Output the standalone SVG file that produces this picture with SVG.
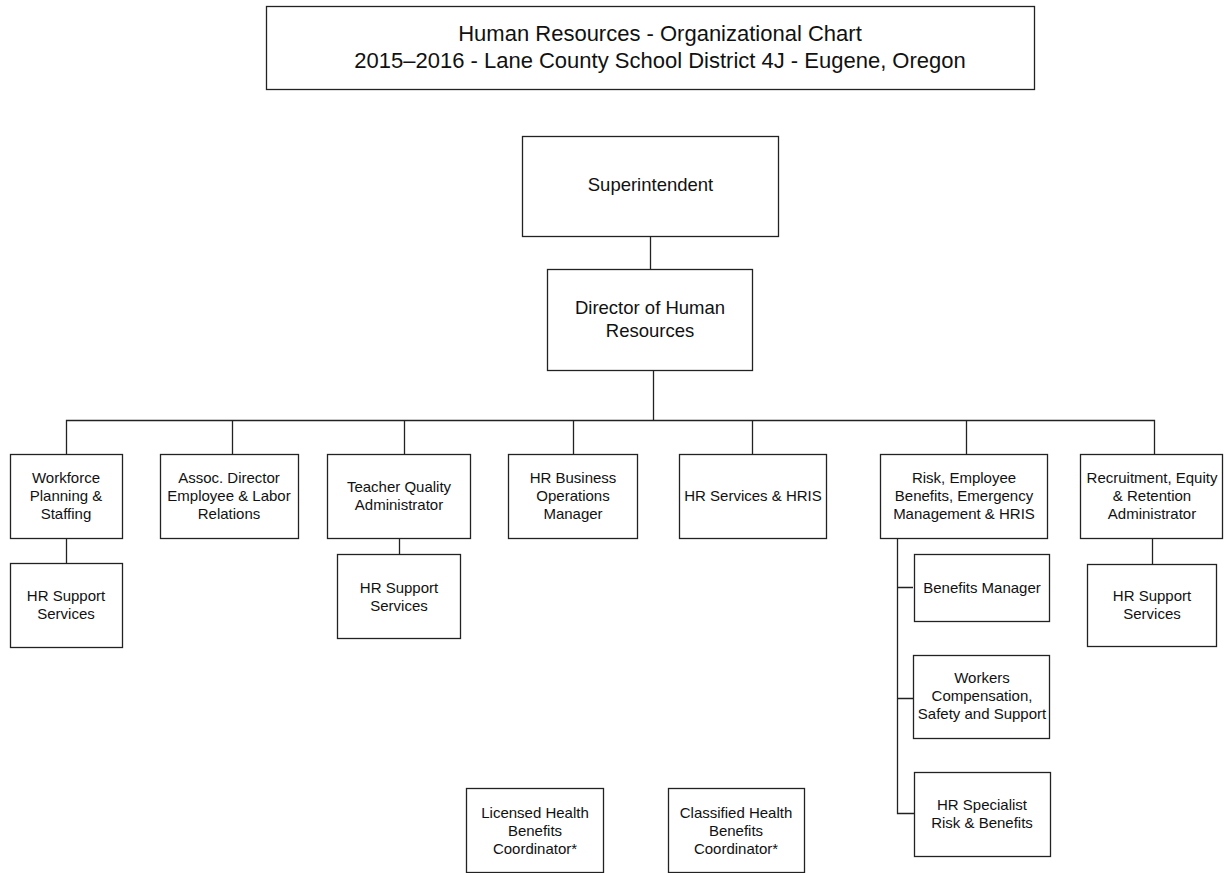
<svg xmlns="http://www.w3.org/2000/svg" width="1225" height="873" viewBox="0 0 1225 873">
<style>
.box{fill:#fff;stroke:#222;stroke-width:1.3}
.t{font-family:"Liberation Sans",Arial,sans-serif;font-size:15px;fill:#111;text-anchor:middle}
.tl{font-family:"Liberation Sans",Arial,sans-serif;font-size:18.5px;fill:#111;text-anchor:middle}
.tt{font-family:"Liberation Sans",Arial,sans-serif;font-size:22px;fill:#111;text-anchor:middle}
.c{fill:none;stroke:#222;stroke-width:1.3}
</style>
<rect width="1225" height="873" fill="#fff"/>
<g id="connectors">
<path class="c" d="M650.5 236V269"/>
<path class="c" d="M653.5 370V420.5"/>
<path class="c" d="M66.5 454V420.5H1154.5V454"/>
<path class="c" d="M232.5 420.5V454M404.5 420.5V454M573.5 420.5V454M752.5 420.5V454M966.5 420.5V454"/>
<path class="c" d="M66.5 538V563"/>
<path class="c" d="M399.5 538V554"/>
<path class="c" d="M1152.5 538V564"/>
<path class="c" d="M913 587.5H897.5V538M897.5 698.5H913M897.5 587V813.5H914"/>
</g>
<g id="title"><rect class="box" x="266.5" y="6.5" width="768" height="83"/>
<text class="tt" x="660" y="40.5">Human Resources - Organizational Chart</text>
<text class="tt" x="660" y="67.5">2015–2016 - Lane County School District 4J - Eugene, Oregon</text></g>
<g id="superintendent"><rect class="box" x="522.5" y="136.5" width="256" height="100"/>
<text class="tl" x="650.5" y="191">Superintendent</text></g>
<g id="director"><rect class="box" x="547.5" y="269.5" width="205" height="101"/>
<text class="tl" x="650" y="314">Director of Human</text>
<text class="tl" x="650" y="337">Resources</text></g>
<g id="workforce"><rect class="box" x="10.5" y="454.5" width="112" height="84"/>
<text class="t" x="66" y="482.5">Workforce</text><text class="t" x="66" y="500.5">Planning &amp;</text><text class="t" x="66" y="518.5">Staffing</text></g>
<g id="assoc"><rect class="box" x="160.5" y="454.5" width="138" height="84"/>
<text class="t" x="229" y="482.5">Assoc. Director</text><text class="t" x="229" y="500.5">Employee &amp; Labor</text><text class="t" x="229" y="518.5">Relations</text></g>
<g id="teacher"><rect class="box" x="327.5" y="454.5" width="143" height="84"/>
<text class="t" x="399" y="491.5">Teacher Quality</text><text class="t" x="399" y="509.5">Administrator</text></g>
<g id="hrbusiness"><rect class="box" x="508.5" y="454.5" width="129" height="84"/>
<text class="t" x="573" y="482.5">HR Business</text><text class="t" x="573" y="500.5">Operations</text><text class="t" x="573" y="518.5">Manager</text></g>
<g id="hrservices"><rect class="box" x="679.5" y="454.5" width="147" height="84"/>
<text class="t" x="753" y="500.5">HR Services &amp; HRIS</text></g>
<g id="risk"><rect class="box" x="880.5" y="454.5" width="167" height="84"/>
<text class="t" x="964" y="482.5">Risk, Employee</text><text class="t" x="964" y="500.5">Benefits, Emergency</text><text class="t" x="964" y="518.5">Management &amp; HRIS</text></g>
<g id="recruitment"><rect class="box" x="1080.5" y="454.5" width="142" height="84"/>
<text class="t" x="1152" y="482.5">Recruitment, Equity</text><text class="t" x="1152" y="500.5">&amp; Retention</text><text class="t" x="1152" y="518.5">Administrator</text></g>
<g id="support1"><rect class="box" x="10.5" y="563.5" width="112" height="84"/>
<text class="t" x="66" y="600.5">HR Support</text><text class="t" x="66" y="618.5">Services</text></g>
<g id="support2"><rect class="box" x="337.5" y="554.5" width="123" height="84"/>
<text class="t" x="399" y="592.5">HR Support</text><text class="t" x="399" y="610.5">Services</text></g>
<g id="support3"><rect class="box" x="1087.5" y="564.5" width="129" height="82"/>
<text class="t" x="1152" y="600.5">HR Support</text><text class="t" x="1152" y="618.5">Services</text></g>
<g id="benefits"><rect class="box" x="914.5" y="554.5" width="135" height="67"/>
<text class="t" x="982" y="592.5">Benefits Manager</text></g>
<g id="workers"><rect class="box" x="913.5" y="655.5" width="136" height="83"/>
<text class="t" x="982" y="682.5">Workers</text><text class="t" x="982" y="700.5">Compensation,</text><text class="t" x="982" y="718.5">Safety and Support</text></g>
<g id="specialist"><rect class="box" x="914.5" y="772.5" width="136" height="84"/>
<text class="t" x="982" y="809.5">HR Specialist</text><text class="t" x="982" y="827.5">Risk &amp; Benefits</text></g>
<g id="licensed"><rect class="box" x="466.5" y="788.5" width="137" height="84"/>
<text class="t" x="535" y="817.5">Licensed Health</text><text class="t" x="535" y="835.5">Benefits</text><text class="t" x="535" y="853.5">Coordinator*</text></g>
<g id="classified"><rect class="box" x="668.5" y="788.5" width="136" height="84"/>
<text class="t" x="736" y="817.5">Classified Health</text><text class="t" x="736" y="835.5">Benefits</text><text class="t" x="736" y="853.5">Coordinator*</text></g>
</svg>
